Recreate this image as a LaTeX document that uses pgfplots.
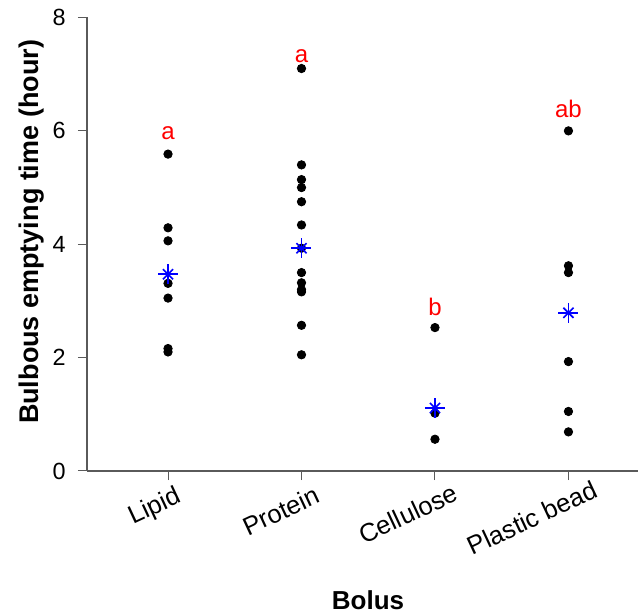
\documentclass[border=0pt]{standalone}
\usepackage{pgfplots}
\pgfplotsset{compat=1.18}
\usepackage{fontspec}
\setmainfont{Liberation Sans}
\definecolor{axgray}{RGB}{90,90,90}
\definecolor{rred}{RGB}{255,0,0}
\definecolor{rblue}{RGB}{0,0,255}
\begin{document}
\begin{tikzpicture}
\path[use as bounding box] (-43.5pt,-71pt) rectangle (275.5pt,235.5pt);
\begin{axis}[
  scale only axis, width=275.5pt, height=226.75pt,
  xmin=-0.607, xmax=3.521, ymin=0, ymax=8,
  axis x line*=bottom, axis y line*=left,
  axis line style={axgray, line width=0.6pt, -},
  xtick={0,1,2,3},
  xticklabels={{\makebox[1.6\width][l]{Lipid}},{\makebox[1.6\width][l]{Protein}},{\makebox[1.6\width][l]{Cellulose}},{\makebox[1.6\width][l]{Plastic bead}}},
  ytick={0,2,4,6,8},
  tick align=outside, major tick length=4.6pt,
  tick style={axgray, line width=0.5pt},
  x tick label style={rotate=25, anchor=center, yshift=-9.5pt, xshift=-3.5pt, font=\fontsize{12.8}{14}\selectfont},
  y tick label style={xshift=-2.5pt, font=\fontsize{11.7}{13}\selectfont},
  /pgf/number format/assume math mode=true,
  xlabel={Bolus},
  ylabel={Bulbous emptying time (hour)},
  xlabel style={at={(axis description cs:0.51,-0.284)}, anchor=center, font=\bfseries\fontsize{13}{15}\selectfont},
  ylabel style={at={(axis description cs:-0.0998,0.527)}, anchor=center, font=\bfseries\fontsize{13.5}{15}\selectfont},
  clip=false,
]
\addplot[only marks, mark=*, mark size=2.1pt, black] coordinates {
  (0,5.59) (0,4.29) (0,4.06) (0,3.31) (0,3.05) (0,2.16) (0,2.10)
  (1,7.10) (1,5.40) (1,5.14) (1,5.00) (1,4.75) (1,4.34) (1,3.93) (1,3.50) (1,3.32) (1,3.20) (1,3.16) (1,2.57) (1,2.05)
  (2,2.53) (2,1.02) (2,0.56)
  (3,6.00) (3,3.62) (3,3.50) (3,1.93) (3,1.05) (3,0.69)
};
\addplot[only marks, mark=+, mark size=5pt, rblue, mark options={line width=0.8pt}] coordinates {
  (0,3.47) (1,3.93) (2,1.11) (3,2.79)
};
\addplot[only marks, mark=x, mark size=3.6pt, rblue, mark options={line width=0.8pt}] coordinates {
  (0,3.47) (1,3.93) (2,1.11) (3,2.79)
};
\node[rred, anchor=base, font=\fontsize{12}{14}\selectfont] at (axis cs:0,5.84) {a};
\node[rred, anchor=base, font=\fontsize{12}{14}\selectfont] at (axis cs:1,7.21) {a};
\node[rred, anchor=base, font=\fontsize{12}{14}\selectfont] at (axis cs:2,2.75) {b};
\node[rred, anchor=base, font=\fontsize{12}{14}\selectfont] at (axis cs:3,6.24) {ab};
\end{axis}
\end{tikzpicture}
\end{document}
